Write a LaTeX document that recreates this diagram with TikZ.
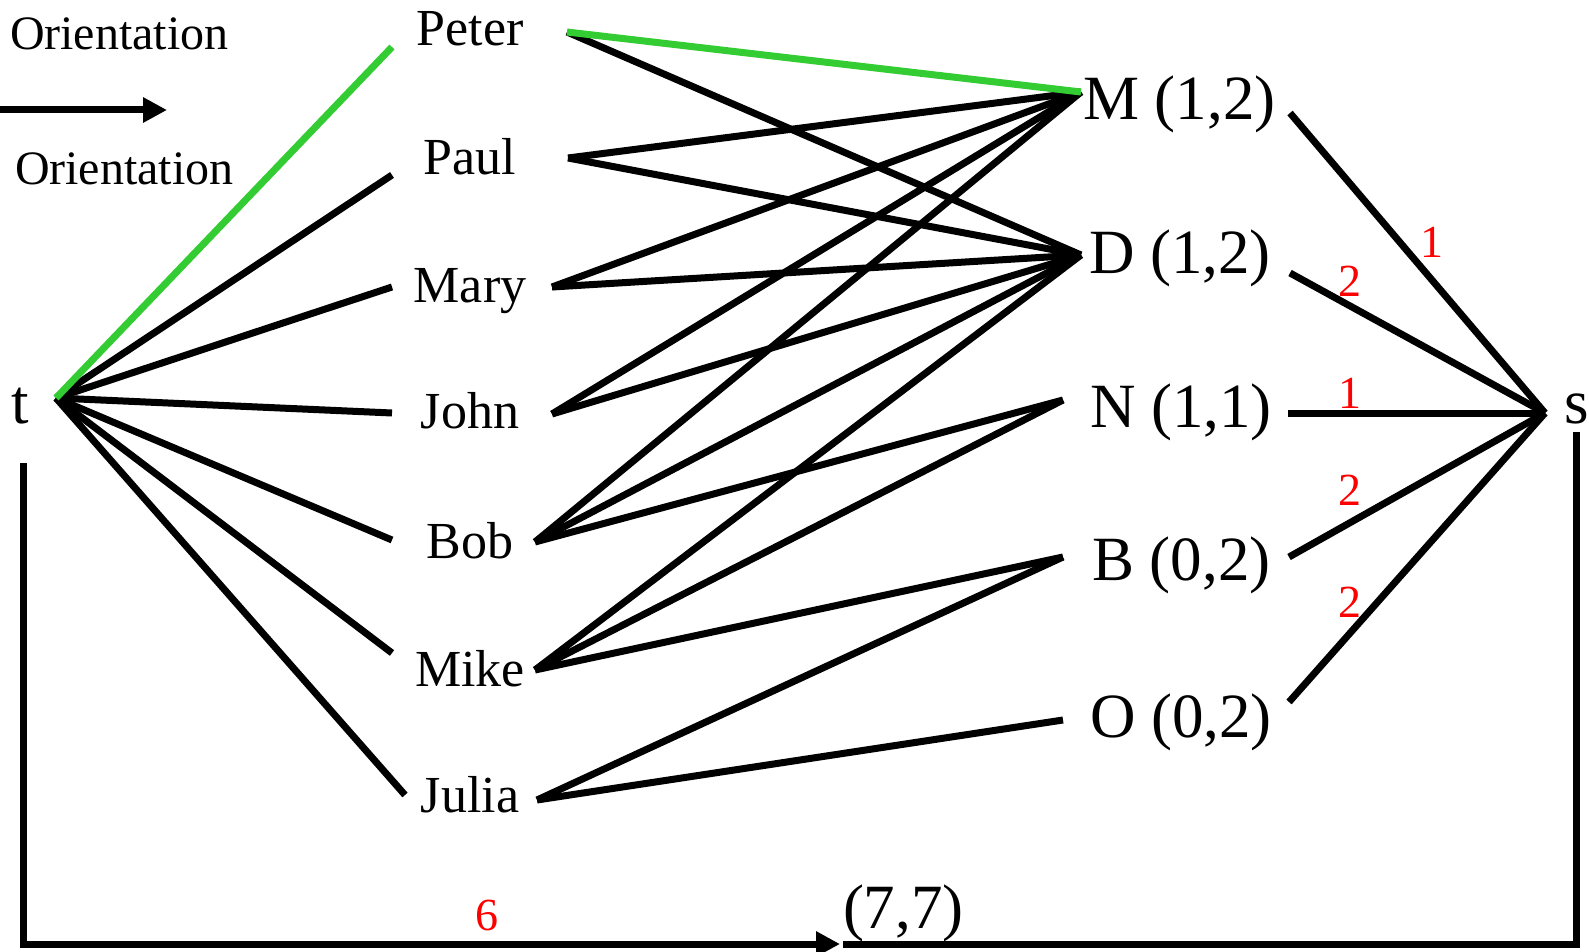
\documentclass[tikz,border=0pt]{standalone}
\usepackage{fontspec}
\setmainfont{Liberation Serif}
\usetikzlibrary{arrows.meta}
\definecolor{pathgreen}{RGB}{51,204,51}
\begin{document}
\begin{tikzpicture}[x=1pt,y=-1pt,
  every node/.style={inner sep=0pt, outer sep=0pt},
  person/.style={font=\fontsize{52}{52}\selectfont, anchor=base},
  course/.style={font=\fontsize{63}{63}\selectfont, anchor=base west},
  capacity/.style={font=\fontsize{46}{46}\selectfont, text=red, anchor=base},
  legend/.style={font=\fontsize{48}{48}\selectfont, anchor=base west},
  edge/.style={line width=7pt},
  matched/.style={edge, draw=pathgreen},
  flow/.style={line width=7pt, line join=miter},
  flowarrow/.style={flow, -{Triangle[length=24pt,width=24pt]}},
]
\useasboundingbox (0,0) rectangle (1589,952);

% legend
\node[legend] (or1) at (10,50) {Orientation};
\node[legend] (or2) at (15,185) {Orientation};
\coordinate (arrS) at (0,110);
\coordinate (arrE) at (167,110);
\draw[flowarrow] (arrS) -- (arrE);

% source and sink labels
\node[course] (tl) at (12,423) {t};
\node[course] (sl) at (1564,423) {s};
\coordinate (t) at (56,398);
\coordinate (s) at (1545,413);

% people
\node[person] (peter) at (470,46)  {Peter};
\node[person] (paul)  at (470,175) {Paul};
\node[person] (mary)  at (470,302) {Mary};
\node[person] (john)  at (470,428) {John};
\node[person] (bob)   at (470,558) {Bob};
\node[person] (mike)  at (470,686) {Mike};
\node[person] (julia) at (470,812) {Julia};

% courses
\node[course] (M) at (1083,120) {M (1,2)};
\node[course] (D) at (1089,273) {D (1,2)};
\node[course] (N) at (1090,427) {N (1,1)};
\node[course] (B) at (1092,580) {B (0,2)};
\node[course] (O) at (1090,737) {O (0,2)};

% edge end points
\coordinate (peterW) at (392,47);
\coordinate (paulW)  at (392,175);
\coordinate (maryW)  at (392,287);
\coordinate (johnW)  at (392,413);
\coordinate (bobW)   at (392,540);
\coordinate (mikeW)  at (392,653);
\coordinate (juliaW) at (405,795);

\coordinate (peterE) at (567,32);
\coordinate (paulE)  at (568,158);
\coordinate (maryE)  at (552,287);
\coordinate (johnE)  at (552,414);
\coordinate (bobE)   at (535,542);
\coordinate (mikeE)  at (535,670);
\coordinate (juliaE) at (537,800);

\coordinate (MW) at (1081,92);
\coordinate (DW) at (1081,255);
\coordinate (NW) at (1063,400);
\coordinate (BW) at (1063,557);
\coordinate (OW) at (1063,720);

\coordinate (ME) at (1290,113);
\coordinate (DE) at (1290,273);
\coordinate (NE) at (1288,413);
\coordinate (BE) at (1289,557);
\coordinate (OE) at (1289,702);

% t to people
\foreach \p in {paulW,maryW,johnW,bobW,mikeW,juliaW}
  \draw[edge] (t) -- (\p);

% people to courses
\draw[edge] (peterE) -- (DW);
\draw[edge] (paulE) -- (MW);
\draw[edge] (paulE) -- (DW);
\draw[edge] (maryE) -- (MW);
\draw[edge] (maryE) -- (DW);
\draw[edge] (johnE) -- (MW);
\draw[edge] (johnE) -- (DW);
\draw[edge] (bobE) -- (MW);
\draw[edge] (bobE) -- (DW);
\draw[edge] (bobE) -- (NW);
\draw[edge] (mikeE) -- (DW);
\draw[edge] (mikeE) -- (NW);
\draw[edge] (mikeE) -- (BW);
\draw[edge] (juliaE) -- (BW);
\draw[edge] (juliaE) -- (OW);

% courses to s
\draw[edge] (ME) -- (s);
\draw[edge] (DE) -- (s);
\draw[edge] (NE) -- (s);
\draw[edge] (BE) -- (s);
\draw[edge] (OE) -- (s);

% augmenting path
\draw[matched] (t) -- (peterW);
\draw[matched] (peterE) -- (MW);

% capacities
\node[capacity] (c1) at (1432,257) {1};
\node[capacity] (c2) at (1350,296) {2};
\node[capacity] (c3) at (1350,408) {1};
\node[capacity] (c4) at (1350,505) {2};
\node[capacity] (c5) at (1350,617) {2};

% return flow from t round to s
\coordinate (tdown)   at (23,463);
\coordinate (corner1) at (23,944);
\coordinate (flowin)  at (840,944);
\coordinate (flowout) at (843,944);
\coordinate (corner2) at (1576,944);
\coordinate (sdown)   at (1576,432);
\draw[flowarrow] (tdown) -- (corner1) -- (flowin);
\draw[flow] (flowout) -- (corner2) -- (sdown);
\node[capacity] (c6) at (487,930) {6};
\node[course] (total) at (843,928) {(7,7)};
\end{tikzpicture}
\end{document}
